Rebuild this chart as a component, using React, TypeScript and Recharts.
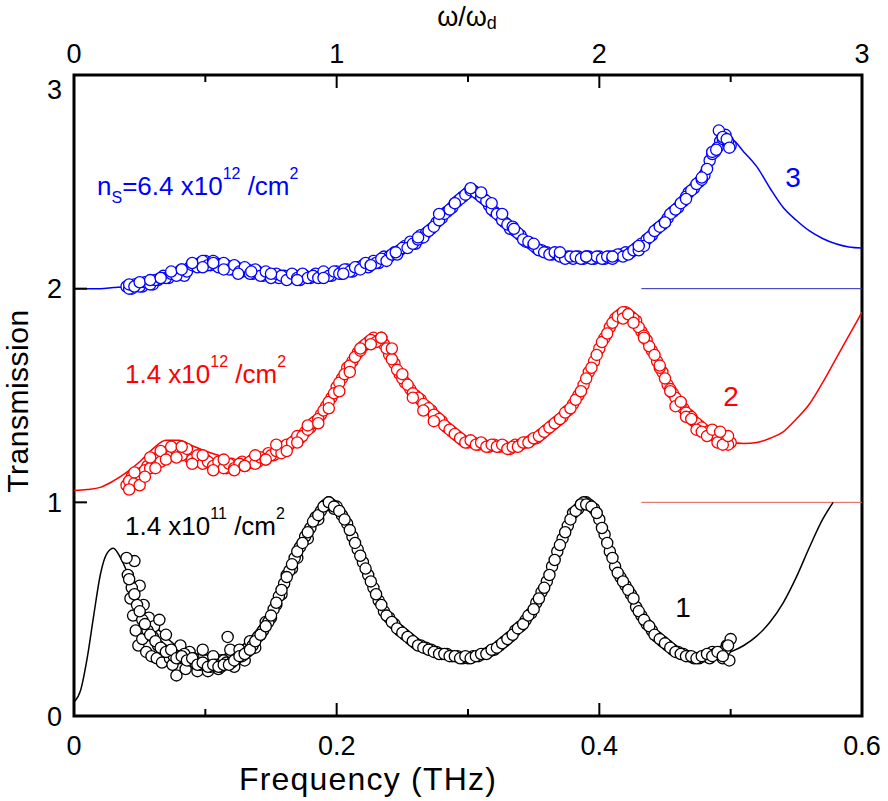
import React from "react";
import {
  ComposedChart,
  XAxis,
  YAxis,
  Scatter,
  Line,
  ReferenceArea,
  Customized,
} from "recharts";

const FONT = "'Liberation Sans', Arial, Helvetica, sans-serif";
const BLUE = "#0000ff";
const RED = "#ff0000";
const BLACK = "#000000";

// fitted curves, sampled every 0.01 THz
const fitFreq = [
  0.0, 0.01, 0.02, 0.03, 0.04, 0.05, 0.06, 0.07, 0.08, 0.09,
  0.1, 0.11, 0.12, 0.13, 0.14, 0.15, 0.16, 0.17, 0.18, 0.19,
  0.2, 0.21, 0.22, 0.23, 0.24, 0.25, 0.26, 0.27, 0.28, 0.29,
  0.3, 0.31, 0.32, 0.33, 0.34, 0.35, 0.36, 0.37, 0.38, 0.39,
  0.4, 0.41, 0.42, 0.43, 0.44, 0.45, 0.46, 0.47, 0.48, 0.49,
  0.5, 0.51, 0.52, 0.53, 0.54, 0.55, 0.56, 0.57, 0.58, 0.59,
  0.6,
];
const blueFit = [
  2.0, 2.0, 2.0, 2.005, 2.01, 2.03, 2.05, 2.07, 2.09, 2.105,
  2.11, 2.105, 2.095, 2.08, 2.07, 2.06, 2.055, 2.055, 2.06, 2.07,
  2.08, 2.09, 2.11, 2.13, 2.16, 2.19, 2.23, 2.28, 2.35, 2.42,
  2.46, 2.42, 2.35, 2.29, 2.24, 2.2, 2.175, 2.16, 2.15, 2.145,
  2.14, 2.145, 2.16, 2.2, 2.25, 2.31, 2.39, 2.48, 2.58, 2.67,
  2.7, 2.64, 2.57, 2.47, 2.38, 2.32, 2.27, 2.235, 2.21, 2.195,
  2.19,
];
const redFit = [
  1.055, 1.06, 1.07, 1.1, 1.14, 1.19, 1.25, 1.29, 1.29, 1.265,
  1.24, 1.22, 1.2, 1.195, 1.2, 1.22, 1.25, 1.29, 1.35, 1.43,
  1.55, 1.66, 1.74, 1.77, 1.7, 1.58, 1.5, 1.44, 1.38, 1.33,
  1.29, 1.275, 1.265, 1.26, 1.275, 1.3, 1.34, 1.4, 1.48, 1.6,
  1.73, 1.84, 1.89, 1.81, 1.71, 1.58, 1.48, 1.41, 1.35, 1.31,
  1.285, 1.275, 1.28, 1.3, 1.33, 1.39, 1.46, 1.56, 1.67, 1.78,
  1.89,
];
const blackFitFreq = [
  0.0, 0.005, 0.01, 0.015, 0.02, 0.025, 0.03, 0.035, 0.04, 0.045, 0.05,
  0.06, 0.07, 0.08, 0.09, 0.1, 0.11, 0.12, 0.13, 0.14, 0.15,
  0.16, 0.17, 0.18, 0.19, 0.2, 0.21, 0.22, 0.23, 0.24, 0.25,
  0.26, 0.27, 0.28, 0.29, 0.3, 0.31, 0.32, 0.33, 0.34, 0.35,
  0.36, 0.37, 0.38, 0.39, 0.4, 0.41, 0.42, 0.43, 0.44, 0.45,
  0.46, 0.47, 0.48, 0.49, 0.5, 0.51, 0.52, 0.53, 0.54, 0.55,
  0.56, 0.57, 0.578,
];
const blackFit = [
  0.065, 0.12, 0.27, 0.47, 0.66, 0.76, 0.785, 0.745, 0.68, 0.6, 0.53,
  0.435, 0.37, 0.32, 0.295, 0.285, 0.285, 0.3, 0.34, 0.41, 0.51,
  0.63, 0.79, 0.92, 0.985, 0.985, 0.87, 0.72, 0.58, 0.47, 0.4,
  0.35, 0.32, 0.3, 0.285, 0.28, 0.285, 0.31, 0.35, 0.41, 0.5,
  0.62, 0.79, 0.94, 1.0, 0.92, 0.75, 0.6, 0.49, 0.4, 0.335,
  0.3, 0.28, 0.275, 0.28, 0.3, 0.33, 0.375, 0.44, 0.53, 0.65,
  0.79, 0.92, 1.0,
];

// measured points, first sweep
const dataFreq = [
  0.04, 0.044, 0.048, 0.052, 0.056, 0.06, 0.064, 0.068, 0.072, 0.076,
  0.08, 0.084, 0.088, 0.092, 0.096, 0.1, 0.104, 0.108, 0.112, 0.116,
  0.12, 0.124, 0.128, 0.132, 0.136, 0.14, 0.144, 0.148, 0.152, 0.156,
  0.16, 0.164, 0.168, 0.172, 0.176, 0.18, 0.184, 0.188, 0.192, 0.196,
  0.2, 0.204, 0.208, 0.212, 0.216, 0.22, 0.224, 0.228, 0.232, 0.236,
  0.24, 0.244, 0.248, 0.252, 0.256, 0.26, 0.264, 0.268, 0.272, 0.276,
  0.28, 0.284, 0.288, 0.292, 0.296, 0.3, 0.304, 0.308, 0.312, 0.316,
  0.32, 0.324, 0.328, 0.332, 0.336, 0.34, 0.344, 0.348, 0.352, 0.356,
  0.36, 0.364, 0.368, 0.372, 0.376, 0.38, 0.384, 0.388, 0.392, 0.396,
  0.4, 0.404, 0.408, 0.412, 0.416, 0.42, 0.424, 0.428, 0.432, 0.436,
  0.44, 0.444, 0.448, 0.452, 0.456, 0.46, 0.464, 0.468, 0.472, 0.476,
  0.48, 0.484, 0.488, 0.492, 0.496, 0.5,
];
const blueData = [
  2.01, 2.0, 2.02, 2.01, 2.03, 2.02, 2.04, 2.06, 2.05, 2.07,
  2.08, 2.06, 2.1, 2.11, 2.12, 2.13, 2.11, 2.12, 2.1, 2.11,
  2.09, 2.1, 2.08, 2.09, 2.07, 2.08, 2.06, 2.07, 2.06, 2.05,
  2.06, 2.05, 2.06, 2.04, 2.06, 2.05, 2.07, 2.06, 2.07, 2.06,
  2.08, 2.07, 2.09, 2.08, 2.1, 2.11, 2.1, 2.13, 2.12, 2.15,
  2.15, 2.17, 2.18, 2.2, 2.22, 2.21, 2.25, 2.26, 2.28, 2.31,
  2.33, 2.36, 2.38, 2.41, 2.43, 2.45, 2.46, 2.44, 2.42, 2.39,
  2.36, 2.34, 2.31, 2.28, 2.27, 2.25, 2.22, 2.21, 2.19, 2.18,
  2.17, 2.16, 2.16, 2.15, 2.15, 2.14, 2.15, 2.14, 2.15, 2.14,
  2.15, 2.14, 2.15, 2.15, 2.16, 2.17, 2.17, 2.19, 2.21, 2.23,
  2.25, 2.28, 2.3, 2.33, 2.36, 2.38, 2.41, 2.45, 2.47, 2.5,
  2.53, 2.6, 2.64, 2.69, 2.72, 2.67,
];
const redData = [
  1.08, 1.12, 1.1, 1.14, 1.17, 1.18, 1.21, 1.22, 1.24, 1.25,
  1.23, 1.24, 1.21, 1.2, 1.19, 1.2, 1.18, 1.17, 1.18, 1.16,
  1.18, 1.17, 1.19, 1.18, 1.2, 1.19, 1.21, 1.23, 1.22, 1.25,
  1.26, 1.27, 1.29, 1.3, 1.33, 1.35, 1.38, 1.41, 1.45, 1.49,
  1.54, 1.58, 1.63, 1.66, 1.7, 1.73, 1.75, 1.77, 1.76, 1.74,
  1.69, 1.65, 1.6, 1.56, 1.53, 1.5, 1.48, 1.45, 1.43, 1.4,
  1.38, 1.35, 1.33, 1.31, 1.29, 1.28, 1.28, 1.27, 1.27, 1.26,
  1.27, 1.26, 1.26, 1.25, 1.27, 1.27, 1.28, 1.29, 1.3, 1.32,
  1.34, 1.36, 1.38, 1.4, 1.43, 1.46, 1.5, 1.55, 1.61, 1.66,
  1.72, 1.77, 1.82, 1.86, 1.88, 1.89, 1.87, 1.85, 1.8, 1.76,
  1.71, 1.66, 1.61, 1.55, 1.51, 1.47, 1.44, 1.41, 1.38, 1.36,
  1.34, 1.33, 1.31, 1.3, 1.29, 1.28,
];
const blackData = [
  0.74, 0.6, 0.52, 0.45, 0.4, 0.37, 0.33, 0.31, 0.3, 0.28,
  0.27, 0.29, 0.26, 0.25, 0.24, 0.24, 0.23, 0.24, 0.23, 0.25,
  0.25, 0.27, 0.28, 0.3, 0.33, 0.37, 0.4, 0.44, 0.5, 0.56,
  0.62, 0.68, 0.74, 0.79, 0.84, 0.88, 0.93, 0.96, 0.99, 0.99,
  0.98, 0.94, 0.9, 0.84, 0.78, 0.72, 0.66, 0.6, 0.54, 0.49,
  0.46, 0.43, 0.4, 0.38, 0.36, 0.34, 0.33, 0.32, 0.31, 0.3,
  0.29, 0.29, 0.28, 0.28, 0.27, 0.27, 0.28, 0.28, 0.29, 0.3,
  0.31, 0.33, 0.35, 0.37, 0.4, 0.42, 0.45, 0.48, 0.53, 0.58,
  0.63, 0.7, 0.77, 0.83, 0.89, 0.95, 0.97, 1.0, 0.99, 0.97,
  0.92, 0.85, 0.77, 0.7, 0.65, 0.61, 0.57, 0.51, 0.47, 0.43,
  0.4, 0.37, 0.35, 0.33, 0.31, 0.3, 0.29, 0.28, 0.27, 0.27,
  0.28, 0.27, 0.29, 0.3, 0.31, 0.36,
];

// measured points, second sweep (in between)
const dataFreqB = [
  0.042, 0.046, 0.05, 0.054, 0.058, 0.062, 0.066, 0.07, 0.074, 0.078,
  0.082, 0.086, 0.09, 0.094, 0.098, 0.102, 0.106, 0.11, 0.114, 0.118,
  0.122, 0.126, 0.13, 0.134, 0.138, 0.142, 0.146, 0.15, 0.154, 0.158,
  0.162, 0.166, 0.17, 0.174, 0.178, 0.182, 0.186, 0.19, 0.194, 0.198,
  0.202, 0.206, 0.21, 0.214, 0.218, 0.222, 0.226, 0.23, 0.234, 0.238,
  0.242, 0.246, 0.25, 0.254, 0.258, 0.262, 0.266, 0.27, 0.274, 0.278,
  0.282, 0.286, 0.29, 0.294, 0.298, 0.302, 0.306, 0.31, 0.314, 0.318,
  0.322, 0.326, 0.33, 0.334, 0.338, 0.342, 0.346, 0.35, 0.354, 0.358,
  0.362, 0.366, 0.37, 0.374, 0.378, 0.382, 0.386, 0.39, 0.394, 0.398,
  0.402, 0.406, 0.41, 0.414, 0.418, 0.422, 0.426, 0.43, 0.434, 0.438,
  0.442, 0.446, 0.45, 0.454, 0.458, 0.462, 0.466, 0.47, 0.474, 0.478,
  0.482, 0.486, 0.49, 0.494, 0.498,
];
const blueDataB = [
  2.0, 2.02, 2.01, 2.03, 2.02, 2.04, 2.05, 2.05, 2.07, 2.06,
  2.09, 2.08, 2.11, 2.1, 2.13, 2.11, 2.13, 2.1, 2.12, 2.09,
  2.11, 2.08, 2.1, 2.07, 2.09, 2.06, 2.08, 2.05, 2.07, 2.06,
  2.04, 2.07, 2.05, 2.07, 2.05, 2.06, 2.05, 2.08, 2.06, 2.08,
  2.07, 2.09, 2.08, 2.1, 2.09, 2.12, 2.11, 2.12, 2.14, 2.13,
  2.16, 2.16, 2.19, 2.19, 2.21, 2.23, 2.24, 2.27, 2.29, 2.32,
  2.35, 2.37, 2.4, 2.42, 2.44, 2.46, 2.45, 2.43, 2.41, 2.37,
  2.35, 2.32, 2.3, 2.29, 2.26, 2.23, 2.22, 2.2, 2.18, 2.17,
  2.16, 2.17, 2.15, 2.14, 2.15, 2.15, 2.14, 2.15, 2.14, 2.15,
  2.14, 2.15, 2.14, 2.16, 2.15, 2.16, 2.18, 2.18, 2.2, 2.24,
  2.27, 2.29, 2.31, 2.35, 2.37, 2.4, 2.43, 2.46, 2.49, 2.51,
  2.56, 2.63, 2.66, 2.7, 2.69,
];
const redDataB = [
  1.1, 1.09, 1.13, 1.15, 1.16, 1.2, 1.19, 1.23, 1.22, 1.24,
  1.22, 1.25, 1.2, 1.22, 1.18, 1.19, 1.17, 1.19, 1.16, 1.18,
  1.16, 1.18, 1.17, 1.19, 1.18, 1.21, 1.2, 1.22, 1.24, 1.23,
  1.27, 1.28, 1.31, 1.31, 1.34, 1.37, 1.39, 1.43, 1.47, 1.51,
  1.56, 1.6, 1.64, 1.68, 1.71, 1.74, 1.76, 1.75, 1.77, 1.72,
  1.67, 1.62, 1.58, 1.55, 1.51, 1.49, 1.46, 1.44, 1.41, 1.39,
  1.36, 1.34, 1.32, 1.3, 1.28, 1.29, 1.27, 1.28, 1.26, 1.27,
  1.26, 1.27, 1.25, 1.26, 1.26, 1.28, 1.28, 1.3, 1.31, 1.33,
  1.35, 1.37, 1.39, 1.42, 1.44, 1.48, 1.52, 1.58, 1.63, 1.69,
  1.75, 1.79, 1.84, 1.87, 1.89, 1.88, 1.86, 1.82, 1.78, 1.73,
  1.69, 1.63, 1.58, 1.53, 1.49, 1.46, 1.42, 1.4, 1.37, 1.35,
  1.33, 1.32, 1.3, 1.29, 1.27,
];
const blackDataB = [
  0.64, 0.57, 0.49, 0.43, 0.38, 0.35, 0.32, 0.3, 0.31, 0.27,
  0.28, 0.26, 0.27, 0.24, 0.25, 0.23, 0.24, 0.23, 0.24, 0.24,
  0.26, 0.28, 0.29, 0.31, 0.35, 0.38, 0.42, 0.47, 0.53, 0.59,
  0.65, 0.71, 0.77, 0.81, 0.86, 0.91, 0.94, 0.98, 1.0, 0.98,
  0.96, 0.92, 0.87, 0.81, 0.75, 0.69, 0.63, 0.57, 0.52, 0.47,
  0.44, 0.41, 0.39, 0.37, 0.35, 0.33, 0.32, 0.31, 0.3, 0.29,
  0.29, 0.28, 0.28, 0.27, 0.28, 0.27, 0.28, 0.29, 0.29, 0.31,
  0.32, 0.34, 0.36, 0.38, 0.41, 0.43, 0.47, 0.5, 0.55, 0.6,
  0.66, 0.73, 0.8, 0.86, 0.92, 0.96, 0.99, 0.99, 0.98, 0.95,
  0.88, 0.81, 0.74, 0.67, 0.63, 0.59, 0.55, 0.49, 0.45, 0.42,
  0.38, 0.36, 0.34, 0.32, 0.3, 0.29, 0.28, 0.28, 0.27, 0.28,
  0.29, 0.28, 0.3, 0.28, 0.33,
];

// extra points where the measured band is wider
const blueExtraFreq = [
  0.042, 0.046, 0.05, 0.058, 0.066, 0.074, 0.082, 0.09, 0.098, 0.106,
  0.114, 0.125, 0.135, 0.15, 0.17, 0.19, 0.205, 0.226, 0.245, 0.262,
  0.278, 0.29, 0.302, 0.31, 0.318, 0.326, 0.335, 0.35, 0.37, 0.39,
  0.41, 0.43, 0.45, 0.466, 0.478, 0.486, 0.489, 0.491, 0.494, 0.497,
  0.499,
];
const blueExtra = [
  2.02, 2.01, 2.03, 2.04, 2.05, 2.08, 2.09, 2.12, 2.1, 2.12,
  2.09, 2.07, 2.08, 2.07, 2.04, 2.05, 2.07, 2.11, 2.17, 2.24,
  2.35, 2.4, 2.47, 2.45, 2.4, 2.35, 2.28, 2.21, 2.17, 2.15,
  2.15, 2.2, 2.31, 2.42, 2.52, 2.64, 2.65, 2.74, 2.71, 2.7,
  2.66,
];
const redExtraFreq = [
  0.042, 0.046, 0.05, 0.054, 0.058, 0.062, 0.066, 0.07, 0.074, 0.078, 0.082,
  0.09, 0.098, 0.106, 0.114, 0.122, 0.13, 0.138, 0.146, 0.154, 0.162,
  0.17, 0.178, 0.186, 0.194, 0.202, 0.21, 0.218, 0.226, 0.234, 0.242,
  0.25, 0.258, 0.266, 0.274,
  0.418, 0.422, 0.426, 0.434, 0.446, 0.454, 0.458, 0.462, 0.466, 0.47,
  0.474, 0.478, 0.482, 0.486, 0.49, 0.494, 0.498, 0.492,
];
const redExtra = [
  1.06, 1.14, 1.08, 1.12, 1.21, 1.16, 1.24, 1.2, 1.26, 1.21, 1.26,
  1.18, 1.22, 1.15, 1.2, 1.15, 1.17, 1.22, 1.2, 1.27, 1.24,
  1.28, 1.36, 1.37, 1.44, 1.52, 1.61, 1.72, 1.74, 1.77, 1.72,
  1.6, 1.49, 1.43, 1.38,
  1.86, 1.88, 1.84, 1.77, 1.64, 1.52, 1.45, 1.47, 1.4, 1.39,
  1.34, 1.33, 1.31, 1.34, 1.28, 1.27, 1.31, 1.33,
];
const blackExtraFreq = [
  0.046, 0.041, 0.043, 0.045, 0.047, 0.049, 0.05, 0.052, 0.053, 0.055,
  0.057, 0.059, 0.061, 0.063, 0.065, 0.067, 0.07, 0.073, 0.075, 0.078,
  0.081, 0.085, 0.088, 0.091, 0.094, 0.098, 0.102, 0.106, 0.11, 0.114,
  0.117, 0.119, 0.122, 0.126, 0.13, 0.134, 0.138, 0.142, 0.146, 0.15,
  0.154, 0.158, 0.162, 0.166, 0.17, 0.178, 0.186, 0.19, 0.194, 0.198,
  0.386, 0.39, 0.486, 0.494, 0.497, 0.499,
];
const blackExtra = [
  0.725, 0.66, 0.55, 0.47, 0.4, 0.33, 0.61, 0.36, 0.52, 0.3,
  0.46, 0.28, 0.42, 0.27, 0.45, 0.25, 0.38, 0.27, 0.24, 0.19,
  0.33, 0.22, 0.3, 0.27, 0.21, 0.31, 0.21, 0.28, 0.22, 0.26,
  0.37, 0.31, 0.23, 0.31, 0.26, 0.35, 0.32, 0.38, 0.44, 0.46,
  0.52, 0.57, 0.66, 0.69, 0.74, 0.83, 0.92, 0.98, 1.0, 0.97,
  0.99, 1.0, 0.3, 0.27, 0.33, 0.26,
];

// offset baselines drawn at the right
const baselineFreq = [0.432, 0.6];
const blueBaseline = [2, 2];
const redBaseline = [1, 1];

const xTicks = [0, 0.1, 0.2, 0.3, 0.4, 0.5, 0.6];
const bottomTickLabels = ["0", "", "0.2", "", "0.4", "", "0.6"];
const topTickLabels = ["0", "", "1", "", "2", "", "3"];
const yTicks = [0, 1, 2, 3];
const yTickLabels = ["0", "1", "2", "3"];

const zip = (fs: number[], vs: number[]) => fs.map((f, i) => ({ f, v: vs[i] }));

const ring = (color: string) => (props: any) =>
  <circle cx={props.cx} cy={props.cy} r={5.6} fill="#fff" stroke={color} strokeWidth={1.3} />;

const BottomTick = (props: any) => {
  const { x, y, index } = props;
  const label = bottomTickLabels[index];
  return (
    <g>
      <line x1={x} x2={x} y1={y} y2={y - (label ? 13 : 7)} stroke="#000" strokeWidth={2} />
      {label ? (
        <text x={x} y={y + 39} textAnchor="middle" fontSize={27} fontFamily={FONT} fill="#000">
          {label}
        </text>
      ) : null}
    </g>
  );
};

const TopTick = (props: any) => {
  const { x, y, index } = props;
  const label = topTickLabels[index];
  return (
    <g>
      <line x1={x} x2={x} y1={y} y2={y + (label ? 13 : 7)} stroke="#000" strokeWidth={2} />
      {label ? (
        <text x={x} y={y - 12} textAnchor="middle" fontSize={27} fontFamily={FONT} fill="#000">
          {label}
        </text>
      ) : null}
    </g>
  );
};

const LeftTick = (props: any) => {
  const { x, y, index } = props;
  const shift = index === 3 ? 14 : 0;
  return (
    <g>
      <line x1={x} x2={x + 13} y1={y} y2={y} stroke="#000" strokeWidth={2} />
      <text x={x - 12} y={y + 9.5 + shift} textAnchor="end" fontSize={27} fontFamily={FONT} fill="#000">
        {yTickLabels[index]}
      </text>
    </g>
  );
};

const Density = ({ x, y, color, exp }: { x: number; y: number; color: string; exp: string }) => (
  <text x={x} y={y} fill={color} fontSize={26} fontFamily={FONT}>
    1.4 x10
    <tspan fontSize={16} dy={-16}>{exp}</tspan>
    <tspan dy={16}>{" /cm"}</tspan>
    <tspan fontSize={16} dy={-16}>2</tspan>
  </text>
);

const Annotations = () => (
  <g fontFamily={FONT}>
    <text x={467} y={26} textAnchor="middle" fontSize={27} fill="#000">
      ω/ω<tspan fontSize={18} dy={3}>d</tspan>
    </text>
    <text x={368} y={790} textAnchor="middle" fontSize={32} letterSpacing={1.2} fill="#000">
      Frequency (THz)
    </text>
    <text
      x={28}
      y={401}
      textAnchor="middle"
      fontSize={30}
      letterSpacing={0.5}
      fill="#000"
      transform="rotate(-90 28 401)"
    >
      Transmission
    </text>
    <text x={97} y={195} fill={BLUE} fontSize={26}>
      n<tspan fontSize={16} dy={8}>S</tspan>
      <tspan dy={-8}>=6.4 x10</tspan>
      <tspan fontSize={16} dy={-16}>12</tspan>
      <tspan dy={16}>{" /cm"}</tspan>
      <tspan fontSize={16} dy={-16}>2</tspan>
    </text>
    <Density x={125} y={383} color={RED} exp="12" />
    <Density x={125} y={535} color={BLACK} exp="11" />
    <text x={793} y={187} textAnchor="middle" fontSize={28} fill={BLUE}>3</text>
    <text x={731} y={406} textAnchor="middle" fontSize={28} fill={RED}>2</text>
    <text x={683} y={617} textAnchor="middle" fontSize={28} fill={BLACK}>1</text>
  </g>
);

export default function App() {
  const blueDots = zip(dataFreq, blueData)
    .concat(zip(dataFreqB, blueDataB))
    .concat(zip(blueExtraFreq, blueExtra));
  const redDots = zip(dataFreq, redData)
    .concat(zip(dataFreqB, redDataB))
    .concat(zip(redExtraFreq, redExtra));
  const blackDots = zip(blackExtraFreq, blackExtra)
    .concat(zip(dataFreq, blackData))
    .concat(zip(dataFreqB, blackDataB));

  return (
    <div style={{ position: "absolute", left: 0, top: 0, background: "#fff" }}>
      <ComposedChart width={888} height={801} margin={{ top: 0, right: 26, bottom: 0, left: 0 }}>
        <XAxis
          dataKey="f"
          type="number"
          domain={[0, 0.6]}
          ticks={xTicks}
          interval={0}
          height={85}
          axisLine={false}
          tickLine={false}
          tickSize={0}
          tickMargin={0}
          tick={BottomTick}
          allowDataOverflow
        />
        <XAxis
          xAxisId="top"
          orientation="top"
          dataKey="f"
          type="number"
          domain={[0, 0.6]}
          ticks={xTicks}
          interval={0}
          height={75}
          axisLine={false}
          tickLine={false}
          tickSize={0}
          tickMargin={0}
          tick={TopTick}
          allowDataOverflow
        />
        <YAxis
          dataKey="v"
          type="number"
          domain={[0, 3]}
          ticks={yTicks}
          interval={0}
          width={74}
          axisLine={false}
          tickLine={false}
          tickSize={0}
          tickMargin={0}
          tick={LeftTick}
          allowDataOverflow
        />

        <Scatter data={blackDots} dataKey="v" shape={ring(BLACK)} isAnimationActive={false} />
        <Scatter data={redDots} dataKey="v" shape={ring(RED)} isAnimationActive={false} />
        <Scatter data={blueDots} dataKey="v" shape={ring(BLUE)} isAnimationActive={false} />

        <Line data={zip(baselineFreq, blueBaseline)} dataKey="v" type="linear" stroke="#2a2ab8" strokeWidth={1} dot={false} isAnimationActive={false} />
        <Line data={zip(baselineFreq, redBaseline)} dataKey="v" type="linear" stroke="#e65a5a" strokeWidth={1} dot={false} isAnimationActive={false} />

        <Line data={zip(fitFreq, blueFit)} dataKey="v" type="monotone" stroke={BLUE} strokeWidth={1.5} dot={false} isAnimationActive={false} />
        <Line data={zip(fitFreq, redFit)} dataKey="v" type="monotone" stroke={RED} strokeWidth={1.5} dot={false} isAnimationActive={false} />
        <Line data={zip(blackFitFreq, blackFit)} dataKey="v" type="monotone" stroke={BLACK} strokeWidth={1.5} dot={false} isAnimationActive={false} />

        <ReferenceArea x1={0} x2={0.6} y1={0} y2={3} fill="none" stroke="#000" strokeWidth={3} ifOverflow="visible" />
        <Customized component={Annotations} />
      </ComposedChart>
    </div>
  );
}
